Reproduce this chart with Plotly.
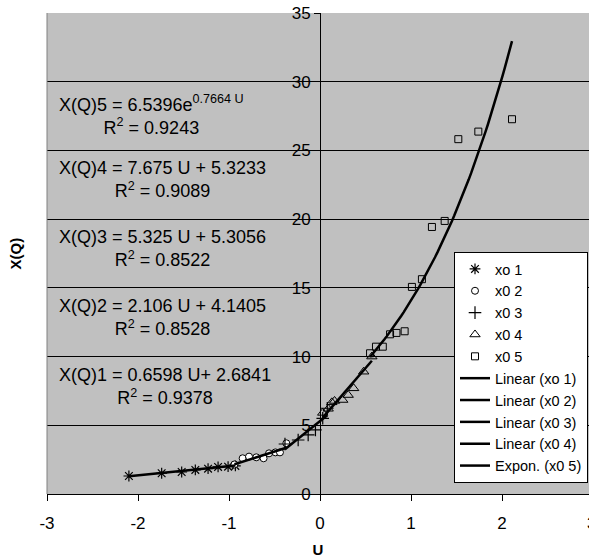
import numpy as np
import plotly.graph_objects as go

FONT = "Arial, 'Liberation Sans', sans-serif"

# ---- data ----
u1 = [-2.10, -1.74, -1.52, -1.37, -1.23, -1.12, -1.01, -0.93]
q1 = [1.31, 1.51, 1.60, 1.75, 1.84, 1.97, 1.99, 2.04]

u2 = [-0.94, -0.85, -0.78, -0.70, -0.62, -0.56, -0.49, -0.44, -0.37]
q2 = [2.15, 2.60, 2.72, 2.67, 2.60, 2.96, 3.03, 3.03, 3.69]

u3 = [-0.385, -0.24, -0.13, -0.05, 0.03, 0.08]
q3 = [3.64, 3.93, 4.30, 4.66, 5.51, 6.24]

u4 = [0.03, 0.09, 0.13, 0.16, 0.25, 0.31, 0.37, 0.48, 0.57]
q4 = [5.9, 6.2, 6.67, 6.77, 6.84, 7.2, 7.69, 8.9, 10.0]

u5 = [0.55, 0.615, 0.69, 0.77, 0.84, 0.93, 1.01, 1.12, 1.23, 1.37, 1.52, 1.74, 2.11]
q5 = [10.24, 10.72, 10.72, 11.62, 11.72, 11.84, 15.07, 15.63, 19.43, 19.87, 25.82, 26.37, 27.27]

series_names = ["xo 1", "x0 2", "x0 3", "x0 4", "x0 5"]
trend_names = ["Linear (xo 1)", "Linear (x0 2)", "Linear (x0 3)", "Linear (x0 4)", "Expon. (x0 5)"]

lin_slopes = [0.6598, 2.106, 5.325, 7.675]
lin_intercepts = [2.6841, 4.1405, 5.3056, 5.3233]
exp_a, exp_b = 6.5396, 0.7664

eq_texts = [
    "X(Q)1 = 0.6598 U+ 2.6841<br>R<sup>2</sup> = 0.9378",
    "X(Q)2 = 2.106 U + 4.1405<br>R<sup>2</sup> = 0.8528",
    "X(Q)3 = 5.325 U + 5.3056<br>R<sup>2</sup> = 0.8522",
    "X(Q)4 = 7.675 U + 5.3233<br>R<sup>2</sup> = 0.9089",
    "X(Q)5 = 6.5396e<sup>0.7664 U</sup><br>R<sup>2</sup> = 0.9243",
]
eq_y = [7.85, 12.85, 17.85, 22.85, 27.55]

x_ticks = [-3, -2, -1, 0, 1, 2]
x_tick_text = ["-3", "-2", "-1", "0", "1", "2"]
x_last_tick = 3

us = [u1, u2, u3, u4, u5]
qs = [q1, q2, q3, q4, q5]

markers = [
    dict(symbol="asterisk-open", size=9, color="black", line=dict(color="black", width=1.2)),
    dict(symbol="circle", size=7, color="white", line=dict(color="black", width=1)),
    dict(symbol="cross-thin-open", size=9, color="black", line=dict(color="black", width=1.2)),
    dict(symbol="triangle-up-open", size=9, color="black", line=dict(color="black", width=1)),
    dict(symbol="square-open", size=7, color="black", line=dict(color="black", width=1)),
]

fig = go.Figure()
for u, q, name, mk in zip(us, qs, series_names, markers):
    fig.add_trace(go.Scatter(x=u, y=q, mode="markers", name=name, marker=mk))

for i in range(4):
    ux = np.array([min(us[i]), max(us[i])])
    fig.add_trace(go.Scatter(x=ux, y=lin_slopes[i] * ux + lin_intercepts[i], mode="lines",
                             name=trend_names[i], line=dict(color="black", width=2.5)))
ue = np.linspace(min(u5), max(u5), 60)
fig.add_trace(go.Scatter(x=ue, y=exp_a * np.exp(exp_b * ue), mode="lines",
                         name=trend_names[4], line=dict(color="black", width=2.5)))

W, H = 589, 558
ml, mr, mt, mb = 47, 0, 13, 64
px_per_u = 91.0
plot_w = W - ml - mr
xmin = -3
xmax = xmin + plot_w / px_per_u

annotations = []
for t, y in zip(eq_texts, eq_y):
    annotations.append(dict(x=-2.89, y=y, xref="x", yref="y", text=t, showarrow=False,
                            xanchor="left", yanchor="middle", align="center",
                            font=dict(family=FONT, size=18, color="black")))
# y-axis title
annotations.append(dict(x=0, y=0.5, xref="paper", yref="paper", text="<b>X(Q)</b>",
                        showarrow=False, textangle=-90, xanchor="center", yanchor="middle",
                        xshift=-32, font=dict(family=FONT, size=15, color="black")))
# partially visible last tick label (cut by the right edge, as in the reference)
annotations.append(dict(x=(x_last_tick - xmin) / (xmax - xmin), y=0, xref="paper", yref="paper",
                        text=str(x_last_tick), showarrow=False,
                        xanchor="center", yanchor="middle", yshift=-29, xshift=-2,
                        font=dict(family=FONT, size=17, color="black")))

fig.update_layout(
    width=W, height=H,
    margin=dict(l=ml, r=mr, t=mt, b=mb, autoexpand=False),
    paper_bgcolor="white",
    plot_bgcolor="#C0C0C0",
    font=dict(family=FONT, color="black"),
    showlegend=True,
    legend=dict(x=(454 - ml) / plot_w, y=(494 - 252) / 481, xanchor="left", yanchor="top",
                bgcolor="white", bordercolor="black", borderwidth=1,
                font=dict(family=FONT, size=14.5, color="black"), tracegroupgap=0),
    xaxis=dict(range=[xmin, xmax], tickvals=x_ticks, ticktext=x_tick_text, ticks="outside",
               ticklen=6, tickcolor="black", showline=True, linecolor="black", linewidth=1,
               showgrid=False, zeroline=False, tickfont=dict(size=17),
               ticklabelstandoff=8,
               title=dict(text="<b>U</b>", font=dict(size=15), standoff=12)),
    yaxis=dict(range=[0, 35], dtick=5, anchor="free", position=(3 * px_per_u) / plot_w,
               ticks="outside", ticklen=6, tickcolor="black", showline=True,
               linecolor="black", linewidth=1, showgrid=True, gridcolor="black",
               gridwidth=1, zeroline=False, tickfont=dict(size=17)),
    annotations=annotations,
    shapes=[dict(type="line", xref="paper", yref="paper", x0=0, x1=0, y0=0, y1=1,
                 line=dict(color="#808080", width=1))],
)

fig.write_html("out.html")
